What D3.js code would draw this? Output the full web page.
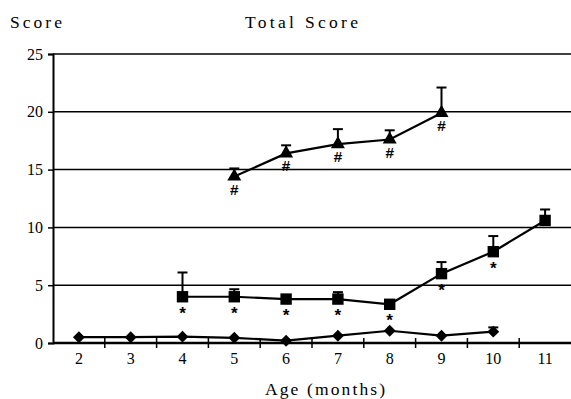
<!DOCTYPE html>
<html><head><meta charset="utf-8">
<script src="https://cdn.jsdelivr.net/npm/d3@7"></script>
<style>body{margin:0;background:#fff}svg{display:block}</style>
</head><body>
<script>
const ages = [2,3,4,5,6,7,8,9,10,11];
const yTicks = [0,5,10,15,20,25];
// triangle series
const triAges = [5,6,7,8,9];
const triMean = [14.4,16.4,17.2,17.6,19.9];
const triErr  = [15.1,17.1,18.5,18.4,22.1];
// square series
const sqAges = [4,5,6,7,8,9,10,11];
const sqMean = [4.0,4.0,3.8,3.8,3.35,6.0,7.9,10.6];
const sqErr  = [6.1,4.65,3.8,4.4,3.35,7.0,9.25,11.55];
const sqMark = ["*","*","*","*","*","*","*",""];
// diamond series
const diAges = [2,3,4,5,6,7,8,9,10];
const diMean = [0.5,0.5,0.55,0.45,0.2,0.63,1.06,0.63,0.98];
const diErr  = [0.5,0.5,0.55,0.45,0.2,0.63,1.06,0.63,1.35];

(function(){
const W=571,H=399;
const svg=d3.select("body").append("svg").attr("width",W).attr("height",H);
const pl=53,pr=571,pt=54,pb=343;
const x=d3.scaleBand().domain(ages).range([pl,pr]);
const y=d3.scaleLinear().domain([0,25]).range([pb,pt]);
const cx=a=>x(a)+x.bandwidth()/2;
const serif="'Liberation Serif', serif";
const mono="'Liberation Mono', monospace";

svg.append("g").selectAll("line").data(yTicks.filter(d=>d>0)).join("line")
  .attr("x1",pl).attr("x2",pr).attr("y1",d=>y(d)).attr("y2",d=>y(d))
  .attr("stroke","#000").attr("stroke-width",1.5);

const ya=svg.append("g").attr("transform",`translate(${pl},0)`)
  .call(d3.axisLeft(y).tickValues(yTicks).tickSize(5).tickPadding(5));
ya.select(".domain").attr("stroke-width",2);
ya.selectAll(".tick line").attr("stroke-width",1.5);
ya.selectAll("text").attr("font-family",serif).attr("font-size",16).attr("fill","#000");

const xa=svg.append("g").attr("transform",`translate(0,${pb})`)
  .call(d3.axisBottom(x).tickSize(0).tickPadding(10));
xa.select(".domain").attr("d",`M${pl},0H${pr}`).attr("stroke-width",2.5);
xa.selectAll("text").attr("font-family",serif).attr("font-size",16).attr("fill","#000");
svg.append("g").selectAll("line").data(ages.slice(1)).join("line")
  .attr("x1",d=>x(d)).attr("x2",d=>x(d)).attr("y1",pb-5).attr("y2",pb+5)
  .attr("stroke","#000").attr("stroke-width",1.5);

svg.append("text").attr("x",10).attr("y",28).text("Score")
  .attr("font-family",serif).attr("font-size",17.5).attr("textLength",52).attr("lengthAdjust","spacing");
svg.append("text").attr("x",245).attr("y",28).text("Total Score")
  .attr("font-family",serif).attr("font-size",17.5).attr("textLength",113).attr("lengthAdjust","spacing");
svg.append("text").attr("x",265).attr("y",395).text("Age (months)")
  .attr("font-family",serif).attr("font-size",17.5).attr("textLength",120).attr("lengthAdjust","spacing");

function series(agesA,mean,err,sym,size,marks){
  const g=svg.append("g");
  const line=d3.line().x((d,i)=>cx(agesA[i])).y(d=>y(d));
  g.append("path").attr("d",line(mean)).attr("fill","none").attr("stroke","#000").attr("stroke-width",2.2);
  agesA.forEach((a,i)=>{
    if(err[i]>mean[i]+0.05){
      g.append("line").attr("x1",cx(a)).attr("x2",cx(a)).attr("y1",y(mean[i])).attr("y2",y(err[i]))
        .attr("stroke","#000").attr("stroke-width",2);
      g.append("line").attr("x1",cx(a)-5).attr("x2",cx(a)+5).attr("y1",y(err[i])).attr("y2",y(err[i]))
        .attr("stroke","#000").attr("stroke-width",2);
    }
  });
  g.selectAll("path.m").data(mean).join("path").attr("class","m")
    .attr("d",d3.symbol().type(sym).size(size))
    .attr("transform",(d,i)=>`translate(${cx(agesA[i])},${y(d)})`).attr("fill","#000");
  if(marks){
    g.selectAll("text").data(mean).join("text")
      .attr("x",(d,i)=>cx(agesA[i])).attr("y",d=>y(d)+marks.dy)
      .attr("text-anchor","middle").attr("font-family",marks.font).attr("font-size",marks.size)
      .attr("font-weight","bold")
      .text((d,i)=>marks.t[i]);
  }
}
series(triAges,triMean,triErr,d3.symbolTriangle,85,{t:["#","#","#","#","#"],dy:18,font:mono,size:15});
series(sqAges,sqMean,sqErr,d3.symbolSquare,130,{t:sqMark,dy:22,font:mono,size:17});
series(diAges,diMean,diErr,d3.symbolDiamond2,90,null);
})();
</script>
</body></html>
